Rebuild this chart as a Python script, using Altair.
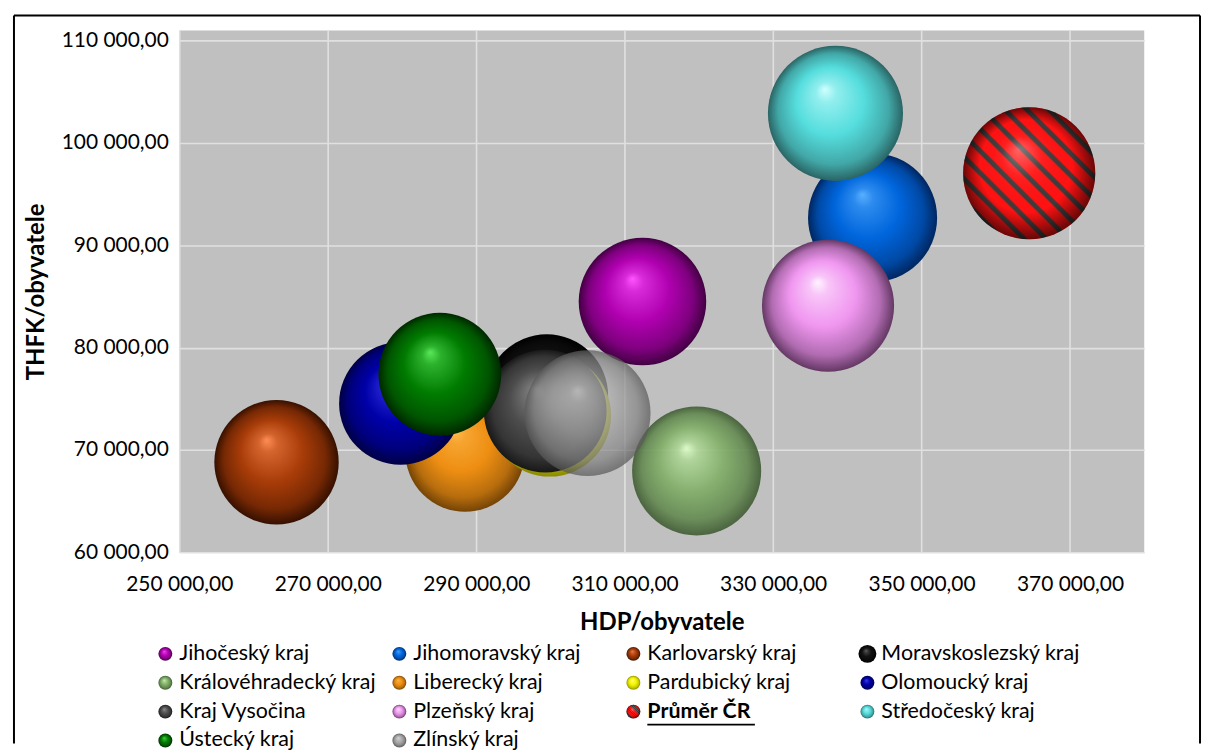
import altair as alt
import pandas as pd

# ---------------- data ----------------
kraje = ["Jihočeský kraj", "Jihomoravský kraj", "Karlovarský kraj", "Moravskoslezský kraj",
         "Královéhradecký kraj", "Liberecký kraj", "Pardubický kraj", "Olomoucký kraj",
         "Kraj Vysočina", "Plzeňský kraj", "Průměr ČR", "Středočeský kraj",
         "Ústecký kraj", "Zlínský kraj"]
hdp = [312400, 343400, 263100, 299500, 319700, 288500, 299900, 279800,
       299300, 337400, 364500, 338400, 285100, 305000]
thfk = [84500, 92700, 68800, 75300, 67950, 69800, 73400, 74550,
        73800, 84100, 97050, 102900, 77400, 73600]
velikost = [41, 42, 39, 38, 42, 36, 38, 38, 38, 44, 44, 46, 38, 40]

x_ticks = [250000, 270000, 290000, 310000, 330000, 350000, 370000]
y_ticks = [60000, 70000, 80000, 90000, 100000, 110000]

# ---------------- style ----------------
sphere_colors = {
    "Jihočeský kraj": ("#FF55FF", "#B000B0", "#420042"),
    "Jihomoravský kraj": ("#5AB0FF", "#0066DD", "#002660"),
    "Karlovarský kraj": ("#FF8C55", "#A83C08", "#361000"),
    "Moravskoslezský kraj": ("#6A6A6A", "#111111", "#000000"),
    "Královéhradecký kraj": ("#DDFFC8", "#80AE66", "#3E5A32"),
    "Liberecký kraj": ("#FFBC50", "#EE8E12", "#744406"),
    "Pardubický kraj": ("#FFFFA0", "#F5F500", "#8A8A00"),
    "Olomoucký kraj": ("#4A4AFF", "#0000A8", "#000044"),
    "Kraj Vysočina": ("#A0A0A0", "#4C4C4C", "#181818"),
    "Plzeňský kraj": ("#FFF4FF", "#F096F0", "#643864"),
    "Průměr ČR": ("#FF6060", "#FF1010", "#600000"),
    "Středočeský kraj": ("#D0FFFF", "#55DDDD", "#2A6464"),
    "Ústecký kraj": ("#5AE85A", "#007C00", "#002800"),
    "Zlínský kraj": ("#E2E2E2", "#A8A8A8", "#585858"),
}
opacities = {"Zlínský kraj": 0.72, "Královéhradecký kraj": 0.9}
STRIPED = "Průměr ČR"
FONT = "Lato"


def mix(c1, c2, t):
    a = [int(c1[i:i + 2], 16) for i in (1, 3, 5)]
    b = [int(c2[i:i + 2], 16) for i in (1, 3, 5)]
    return "#" + "".join(f"{round(a[k] + (b[k] - a[k]) * t):02X}" for k in range(3))


def sphere(name):
    hi, base, dark = sphere_colors[name]
    return alt.RadialGradient(
        gradient="radial",
        stops=[
            alt.GradientStop(offset=0, color=hi),
            alt.GradientStop(offset=0.15, color=mix(hi, base, 0.5)),
            alt.GradientStop(offset=0.5, color=base),
            alt.GradientStop(offset=0.82, color=mix(base, dark, 0.45)),
            alt.GradientStop(offset=1, color=dark),
        ],
        x1=0.42, y1=0.32, r1=0, x2=0.5, y2=0.5, r2=0.5)


def stripes():
    n = 12
    stops = []
    for k in range(n):
        t = k / n
        stops += [
            alt.GradientStop(offset=t, color="#FF1212"),
            alt.GradientStop(offset=t + 0.58 / n, color="#FF1212"),
            alt.GradientStop(offset=t + 0.68 / n, color="#3C3C3C"),
            alt.GradientStop(offset=t + 0.88 / n, color="#3C3C3C"),
            alt.GradientStop(offset=min(1.0, t + 0.999 / n), color="#FF1212"),
        ]
    return alt.LinearGradient(gradient="linear", stops=stops, x1=0, y1=1, x2=1, y2=0)


shade = alt.RadialGradient(
    gradient="radial",
    stops=[
        alt.GradientStop(offset=0, color="rgba(255,255,255,0.35)"),
        alt.GradientStop(offset=0.3, color="rgba(255,255,255,0.06)"),
        alt.GradientStop(offset=0.7, color="rgba(0,0,0,0)"),
        alt.GradientStop(offset=1, color="rgba(0,0,0,0.6)"),
    ],
    x1=0.42, y1=0.32, r1=0, x2=0.5, y2=0.5, r2=0.5)

df = pd.DataFrame({"kraj": kraje, "hdp": hdp, "thfk": thfk, "velikost": velikost})
df["col"] = [i % 4 for i in range(len(kraje))]
df["row"] = [i // 4 for i in range(len(kraje))]

fmt = "replace(replace(format(datum.value, ',.2f'), ',', ' '), '.', ',')"

x_enc = alt.X("hdp:Q", title="HDP/obyvatele",
              scale=alt.Scale(domain=[250000, 380000], nice=False, zero=False),
              axis=alt.Axis(values=x_ticks, labelExpr=fmt, labelPadding=21,
                            labelFlush=False, titlePadding=17))
y_enc = alt.Y("thfk:Q", title="THFK/obyvatele",
              scale=alt.Scale(domain=[60000, 111000], nice=False, zero=False),
              axis=alt.Axis(values=y_ticks, labelExpr=fmt, labelPadding=11,
                            titlePadding=13))
# symbol size in Vega = (diameter)^2 ; velikost*100 = radius^2 in px
s_enc = alt.Size("velikost:Q", scale=alt.Scale(domain=[0, 50], range=[0, 20000]),
                 legend=None)

bubble_layers = []
for name in kraje:
    base = alt.Chart(df).transform_filter(alt.datum.kraj == name)
    op = opacities.get(name, 1.0)
    if name == STRIPED:
        bubble_layers.append(base.mark_circle(fill=stripes(), opacity=op)
                             .encode(x=x_enc, y=y_enc, size=s_enc))
        bubble_layers.append(base.mark_circle(fill=shade, opacity=1)
                             .encode(x=x_enc, y=y_enc, size=s_enc))
    else:
        bubble_layers.append(base.mark_circle(fill=sphere(name), opacity=op)
                             .encode(x=x_enc, y=y_enc, size=s_enc))
bubbles = alt.layer(*bubble_layers)

# ---------------- legend (below the plot) ----------------
lx = alt.X("col:Q", scale=alt.Scale(domain=[0, 3], range=[-14, 691], nice=False, zero=False), axis=None)
ly = alt.Y("row:Q", scale=alt.Scale(domain=[0, 3], range=[626, 713], nice=False, zero=False), axis=None)

legend_layers = []
for name in kraje:
    base = alt.Chart(df).transform_filter(alt.datum.kraj == name)
    sz = 324 if name == "Moravskoslezský kraj" else 196
    if name == STRIPED:
        legend_layers.append(base.mark_circle(fill=stripes(), opacity=1, size=sz).encode(x=lx, y=ly))
        legend_layers.append(base.mark_circle(fill=shade, opacity=1, size=sz).encode(x=lx, y=ly))
    else:
        legend_layers.append(base.mark_circle(fill=sphere(name), opacity=1, size=sz).encode(x=lx, y=ly))

legend_layers.append(
    alt.Chart(df).transform_filter(alt.datum.kraj != STRIPED)
    .mark_text(align="left", baseline="middle", dx=14, font=FONT, fontSize=21.5, color="#000000")
    .encode(x=lx, y=ly, text="kraj:N"))
legend_layers.append(
    alt.Chart(df).transform_filter(alt.datum.kraj == STRIPED)
    .mark_text(align="left", baseline="middle", dx=14, font=FONT, fontSize=21.5,
               fontWeight="bold", color="#000000")
    .encode(x=lx, y=ly, text="kraj:N"))
legend_layers.append(
    alt.Chart(df).transform_filter(alt.datum.kraj == STRIPED)
    .mark_rule(color="#000000", strokeWidth=1.8, xOffset=14, x2Offset=122, yOffset=13, y2Offset=13)
    .encode(x=lx, x2="col:Q", y=ly))
legend = alt.layer(*legend_layers)

# ---------------- outer frame ----------------
frame_df = pd.DataFrame({"v": [0]})
fb = alt.Chart(frame_df)
frame = alt.layer(
    fb.mark_rule(color="#000000", strokeWidth=2).encode(
        x=alt.value(-166), y=alt.value(-15), y2=alt.value(716)),
    fb.mark_rule(color="#000000", strokeWidth=2).encode(
        x=alt.value(-166), x2=alt.value(1025), y=alt.value(-15)),
    fb.mark_rule(color="#000000", strokeWidth=2).encode(
        x=alt.value(1025), y=alt.value(-15), y2=alt.value(716)),
)

chart = (
    alt.layer(bubbles, legend, frame)
    .resolve_scale(x="independent", y="independent")
    .properties(width=969, height=524,
                padding={"left": 5, "top": 5, "right": 3, "bottom": 0},
                background="#FFFFFF")
    .configure_view(fill="#C0C0C0", strokeWidth=0)
    .configure_axis(
        grid=True, gridColor="#E0E0E0", gridWidth=1.6,
        domain=False, ticks=False,
        labelFont=FONT, labelFontSize=21, labelColor="#000000",
        titleFont=FONT, titleFontSize=24, titleFontWeight="bold", titleColor="#000000",
    )
)

chart.save("out.html", embed_options={"renderer": "svg", "actions": False})
